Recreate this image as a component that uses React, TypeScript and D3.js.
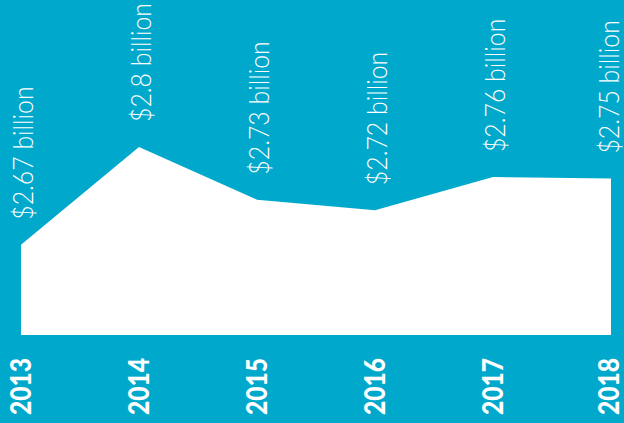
import React from "react";
import * as d3 from "d3";

const years = ["2013", "2014", "2015", "2016", "2017", "2018"];
const values = [2.67, 2.8, 2.73, 2.716, 2.76, 2.758];
const valueLabels = ["$2.67 billion", "$2.8 billion", "$2.73 billion", "$2.72 billion", "$2.76 billion", "$2.75 billion"];

const W = 624;
const H = 423;
const BG = "#00a9cc";

export default function App() {
  const x = d3.scalePoint<string>().domain(years).range([21, 611]);
  const y = d3.scaleLinear().domain([2.55, 2.8]).range([335, 147]);
  const data = years.map((yr, i) => ({ yr, v: values[i], label: valueLabels[i] }));
  const area = d3
    .area<{ yr: string; v: number }>()
    .x((d) => x(d.yr) as number)
    .y0(y(2.55))
    .y1((d) => y(d.v));

  return (
    <svg width={W} height={H} style={{ position: "absolute", left: 0, top: 0, display: "block" }}>
      <rect x={0} y={0} width={W} height={H} fill={BG} />
      <path d={area(data) || ""} fill="#ffffff" />
      {data.map((d) => {
        const px = x(d.yr) as number;
        const py = y(d.v);
        const cx = Math.min(px + 2, 609);
        const yc = Math.min(px, 609);
        return (
          <g key={d.yr}>
            <text
              transform={`translate(${cx + 9.5},${py - 25}) rotate(-90) scale(0.92,1)`}
              fill="#ffffff"
              fontFamily="Lato, 'Noto Sans', sans-serif"
              fontWeight={300}
              fontSize={27}
            >
              {d.label}
            </text>
            <text
              transform={`translate(${yc + 10},${415}) rotate(-90)`}
              fill="#ffffff"
              fontFamily="Lato, 'Noto Sans', sans-serif"
              fontWeight={900}
              fontSize={28}
              textLength={57}
              lengthAdjust="spacingAndGlyphs"
            >
              {d.yr}
            </text>
          </g>
        );
      })}
    </svg>
  );
}
